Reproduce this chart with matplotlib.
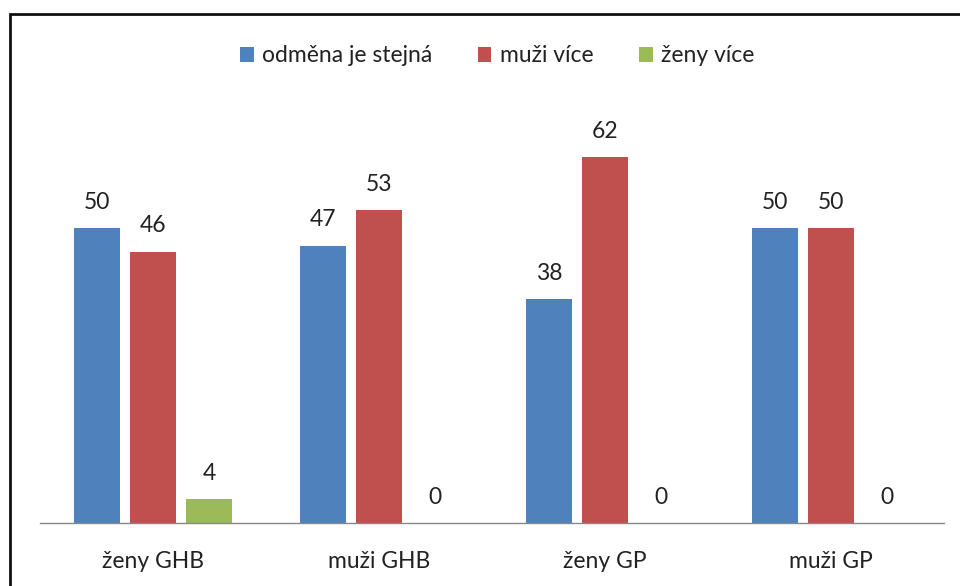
import matplotlib.pyplot as plt
import numpy as np
from matplotlib.patches import Rectangle

categories = ['ženy GHB', 'muži GHB', 'ženy GP', 'muži GP']
series = ['odměna je stejná', 'muži více', 'ženy více']
stejna = [50, 47, 38, 50]
muzi_vice = [46, 53, 62, 50]
zeny_vice = [4, 0, 0, 0]
colors = ['#4F81BD', '#C0504D', '#9BBB59']

plt.rcParams['font.family'] = ['Lato', 'DejaVu Sans']
fs = 16.5

W, H = 960, 586
fig = plt.figure(figsize=(W / 100, H / 100), dpi=100)
ax = fig.add_axes([40 / W, 1 - 523 / H, (944 - 40) / W, (523 - 110) / H])

x = np.arange(len(categories))
width = 0.204
offset = 0.248
for i, (vals, name) in enumerate(zip([stejna, muzi_vice, zeny_vice], series)):
    pos = x + (i - 1) * offset
    bars = ax.bar(pos, vals, width, color=colors[i], label=name)
    for b, v in zip(bars, vals):
        ax.annotate(str(v), (b.get_x() + b.get_width() / 2, v), xytext=(0, 11),
                    textcoords='offset points', ha='center', va='bottom',
                    fontsize=fs, color='#222222')

ax.set_xlim(-0.5, 3.5)
ax.set_ylim(0, 70)
ax.set_yticks([])
ax.set_xticks(x)
ax.set_xticklabels(categories, fontsize=fs, color='#222222')
ax.tick_params(axis='x', length=0, pad=20)
for s in ['top', 'right', 'left']:
    ax.spines[s].set_visible(False)
ax.spines['bottom'].set_color('#888888')
ax.spines['bottom'].set_linewidth(1)

fig.legend(loc='center', bbox_to_anchor=(497 / W, 1 - 56 / H), ncol=3, frameon=False,
           fontsize=fs, handlelength=0.6, handleheight=0.6, handletextpad=0.35,
           columnspacing=2.0, labelcolor='#222222')

fig.patches.append(Rectangle((10 / W, -0.1), 1.2, 1 - 14 / H + 0.1, transform=fig.transFigure,
                             fill=False, edgecolor='#111111', linewidth=2))

fig.savefig('out.png', dpi=100)
